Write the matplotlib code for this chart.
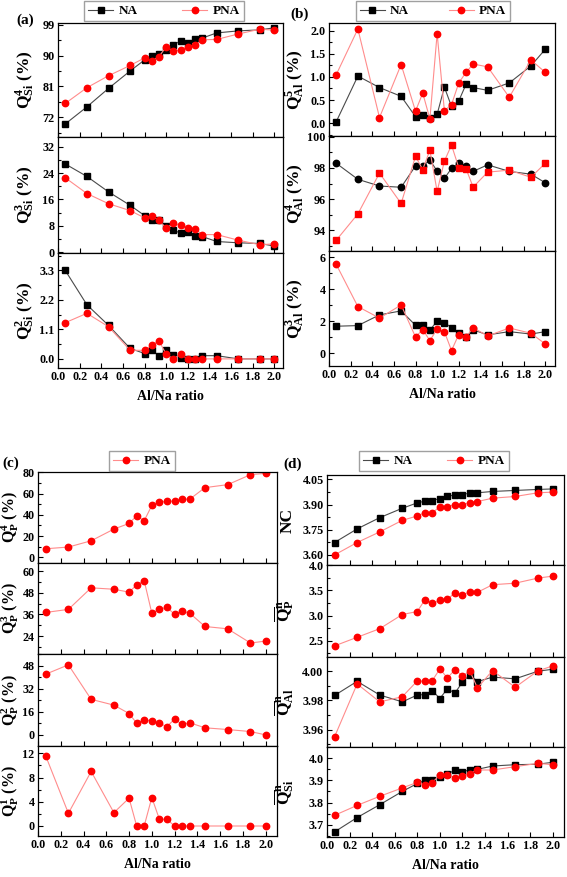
import matplotlib
matplotlib.use("Agg")
import matplotlib.pyplot as plt
from matplotlib.ticker import MultipleLocator, AutoMinorLocator

plt.rcParams["font.family"] = ["Liberation Serif", "DejaVu Serif"]
plt.rcParams["font.weight"] = "bold"
plt.rcParams["mathtext.fontset"] = "custom"
plt.rcParams["mathtext.rm"] = "Liberation Serif:bold"
plt.rcParams["mathtext.it"] = "Liberation Serif:bold"
plt.rcParams["mathtext.bf"] = "Liberation Serif:bold"

ratio = [0.067, 0.267, 0.467, 0.667, 0.8, 0.867, 0.933, 1.0, 1.067, 1.133,
         1.2, 1.267, 1.333, 1.467, 1.667, 1.867, 2.0]

# (a) Si species
q4si_na = [70.0, 75.0, 80.4, 85.5, 88.7, 89.8, 90.3, 91.5, 93.2, 94.2, 93.8, 94.9, 95.1, 96.6, 97.2, 97.5, 98.1]
q4si_pna = [76.0, 80.6, 84.1, 87.1, 89.3, 88.3, 89.7, 92.5, 91.3, 91.6, 92.6, 93.0, 94.6, 94.7, 96.3, 97.7, 97.4]
q3si_na = [26.8, 23.0, 18.3, 14.2, 11.1, 9.7, 9.6, 8.0, 6.7, 5.7, 6.1, 5.0, 4.7, 3.2, 2.8, 2.6, 1.8]
q3si_pna = [22.6, 17.8, 14.7, 12.6, 10.4, 11.0, 9.6, 7.3, 8.7, 8.2, 7.2, 7.1, 5.3, 5.3, 3.6, 2.2, 2.5]
q2si_na = [3.3, 2.02, 1.25, 0.39, 0.2, 0.35, 0.1, 0.32, 0.16, 0.05, 0.0, 0.0, 0.12, 0.12, 0.0, 0.0, 0.0]
q2si_pna = [1.35, 1.7, 1.2, 0.32, 0.32, 0.51, 0.68, 0.17, 0.0, 0.17, 0.0, 0.0, 0.0, 0.0, 0.0, 0.0, 0.0]

# (b) Al species
q5al_na = [0.03, 1.02, 0.77, 0.58, 0.14, 0.17, 0.12, 0.19, 0.78, 0.36, 0.48, 0.84, 0.77, 0.71, 0.87, 1.24, 1.6]
q5al_pna = [1.05, 2.04, 0.12, 1.27, 0.26, 0.65, 0.09, 1.94, 0.27, 0.4, 0.87, 1.1, 1.28, 1.22, 0.56, 1.37, 1.1]
q4al_na = [98.3, 97.27, 96.84, 96.76, 98.13, 98.13, 98.5, 97.8, 97.33, 97.97, 98.33, 98.13, 97.78, 98.2, 97.78, 97.6, 97.05]
q4al_pna = [93.36, 95.05, 97.67, 95.72, 98.74, 97.9, 99.14, 96.49, 98.44, 99.47, 98.02, 97.95, 96.77, 97.73, 97.86, 97.4, 98.3]
q3al_na = [1.69, 1.73, 2.4, 2.65, 1.75, 1.75, 1.44, 2.02, 1.92, 1.6, 1.25, 1.04, 1.46, 1.15, 1.35, 1.2, 1.35]
q3al_pna = [5.56, 2.92, 2.2, 3.02, 1.02, 1.48, 0.79, 1.52, 1.35, 0.17, 1.17, 1.0, 1.6, 1.08, 1.58, 1.25, 0.58]

# (c) P species (PNA only)
q4p_pna = [8.1, 9.7, 15.6, 26.6, 31.9, 39.1, 34.4, 48.8, 51.9, 52.8, 52.8, 54.7, 54.7, 65.6, 68.4, 77.8, 79.0]
q3p_pna = [37.1, 38.8, 50.8, 50.0, 48.4, 52.4, 54.8, 36.7, 38.9, 40.0, 36.0, 37.8, 36.7, 29.3, 28.0, 20.1, 21.2]
q2p_pna = [42.0, 48.5, 24.6, 20.6, 14.8, 8.1, 10.4, 9.7, 7.9, 5.8, 10.9, 7.2, 8.4, 4.9, 3.7, 2.3, 0.0]
q1p_pna = [11.6, 2.1, 9.0, 2.2, 4.6, 0.0, 0.0, 4.7, 1.1, 1.1, 0.0, 0.0, 0.0, 0.0, 0.0, 0.0, 0.0]

# (d) coordination / mean Qn
nc_na = [3.674, 3.755, 3.822, 3.878, 3.91, 3.92, 3.924, 3.936, 3.948, 3.958, 3.958, 3.97, 3.97, 3.978, 3.984, 3.99, 3.993]
nc_pna = [3.60, 3.674, 3.737, 3.806, 3.832, 3.852, 3.852, 3.886, 3.888, 3.90, 3.90, 3.912, 3.918, 3.938, 3.948, 3.97, 3.974]
qnp_pna = [2.40, 2.57, 2.74, 3.02, 3.08, 3.31, 3.24, 3.30, 3.32, 3.45, 3.41, 3.47, 3.46, 3.61, 3.64, 3.74, 3.78]
qnal_na = [3.9834, 3.9931, 3.9837, 3.979, 3.9837, 3.984, 3.9867, 3.9813, 3.988, 3.985, 3.9925, 3.9977, 3.9929, 3.996, 3.9948, 4.0, 4.0014]
qnal_pna = [3.955, 3.9913, 3.979, 3.9825, 3.9934, 3.9931, 3.9936, 4.0016, 3.9954, 4.0011, 3.997, 4.0, 3.9886, 4.0005, 3.989, 4.0002, 4.0037]
qnsi_na = [3.667, 3.732, 3.79, 3.85, 3.886, 3.9, 3.903, 3.915, 3.929, 3.946, 3.938, 3.949, 3.95, 3.965, 3.971, 3.973, 3.982]
qnsi_pna = [3.742, 3.787, 3.828, 3.866, 3.891, 3.878, 3.89, 3.925, 3.925, 3.913, 3.922, 3.931, 3.947, 3.947, 3.962, 3.977, 3.971]

W, H = 567, 877
NA_STYLE = dict(color="#4a4a4a", lw=0.8, marker="s", ms=4.2, mfc="black", mec="black", label="NA")
PNA_STYLE = dict(color="#ff8c8c", lw=0.8, marker="o", ms=4.6, mfc="#ff0000", mec="#ff0000", label="PNA")


def make_axes(fig, left, right, top, bottom):
    return fig.add_axes([left / W, 1 - bottom / H, (right - left) / W, (bottom - top) / H])


def style_axes(ax, ylim, ystep, xmax, ylabel, label_x, bottom=False, fmt=None, label_size=12.5):
    ax.set_xlim(0, xmax)
    ax.set_ylim(*ylim)
    ax.xaxis.set_major_locator(MultipleLocator(0.2))
    ax.yaxis.set_major_locator(MultipleLocator(ystep))
    ax.yaxis.set_minor_locator(AutoMinorLocator(2))
    ax.tick_params(which="both", direction="in", labelsize=8.7, width=0.8, pad=2.5)
    ax.tick_params(which="major", length=3.5)
    ax.tick_params(which="minor", length=2)
    for s in ax.spines.values():
        s.set_linewidth(0.9)
    if fmt:
        ax.yaxis.set_major_formatter(plt.FormatStrFormatter(fmt))
    if bottom:
        ax.xaxis.set_major_formatter(plt.FormatStrFormatter("%.1f"))
        ax.set_xlabel("Al/Na ratio", fontsize=10, fontweight="bold", labelpad=5)
    else:
        ax.tick_params(axis="x", labelbottom=False)
    ax.set_ylabel(ylabel, fontsize=label_size, fontweight="bold")
    ax.yaxis.set_label_coords(label_x, 0.5)
    for lab in ax.get_xticklabels() + ax.get_yticklabels():
        lab.set_fontweight("bold")


def stack(fig, left, right, edges):
    return [make_axes(fig, left, right, edges[i], edges[i + 1]) for i in range(len(edges) - 1)]


fig = plt.figure(figsize=(W / 100, H / 100), dpi=100)

# ---- (a)
a1, a2, a3 = stack(fig, 58, 283, [23, 137, 253, 368])
a1.plot(ratio, q4si_na, **NA_STYLE)
a1.plot(ratio, q4si_pna, **PNA_STYLE)
style_axes(a1, (66.2, 99.5), 9, 2.08, r"$\mathrm{Q^{4}_{Si}}$ (%)", -0.10)
a2.plot(ratio, q3si_na, **NA_STYLE)
a2.plot(ratio, q3si_pna, **PNA_STYLE)
style_axes(a2, (-0.3, 35), 8, 2.08, r"$\mathrm{Q^{3}_{Si}}$ (%)", -0.10)
a3.plot(ratio, q2si_na, **NA_STYLE)
a3.plot(ratio, q2si_pna, **PNA_STYLE)
style_axes(a3, (-0.34, 3.95), 1.1, 2.08, r"$\mathrm{Q^{2}_{Si}}$ (%)", -0.10, bottom=True, fmt="%.1f")

# ---- (b)
b1, b2, b3 = stack(fig, 329, 555, [23, 136, 251, 366])
b1.plot(ratio, q5al_na, **NA_STYLE)
b1.plot(ratio, q5al_pna, **PNA_STYLE)
style_axes(b1, (-0.28, 2.17), 0.5, 2.09, r"$\mathrm{Q^{5}_{Al}}$ (%)", -0.10, fmt="%.1f")
# the middle panel swaps marker shapes, as in the original figure
b2.plot(ratio, q4al_na, **dict(NA_STYLE, marker="o", ms=4.6))
b2.plot(ratio, q4al_pna, **dict(PNA_STYLE, marker="s", ms=4.2))
style_axes(b2, (92.67, 100.05), 2, 2.09, r"$\mathrm{Q^{4}_{Al}}$ (%)", -0.10)
b3.plot(ratio, q3al_na, **NA_STYLE)
b3.plot(ratio, q3al_pna, **PNA_STYLE)
style_axes(b3, (-0.8, 6.4), 2, 2.09, r"$\mathrm{Q^{3}_{Al}}$ (%)", -0.10, bottom=True)

# ---- (c)
c1, c2, c3, c4 = stack(fig, 38, 277, [472, 563, 654, 746, 836])
c1.plot(ratio, q4p_pna, **PNA_STYLE)
style_axes(c1, (-5.3, 80.3), 20, 2.1, r"$\mathrm{Q^{4}_{P}}$ (%)", -0.072, label_size=11.5)
c2.plot(ratio, q3p_pna, **PNA_STYLE)
style_axes(c2, (14, 64.6), 12, 2.1, r"$\mathrm{Q^{3}_{P}}$ (%)", -0.072, label_size=11.5)
c3.plot(ratio, q2p_pna, **PNA_STYLE)
style_axes(c3, (-7.7, 56), 16, 2.1, r"$\mathrm{Q^{2}_{P}}$ (%)", -0.072, label_size=11.5)
c4.plot(ratio, q1p_pna, **PNA_STYLE)
style_axes(c4, (-1.65, 13.2), 4, 2.1, r"$\mathrm{Q^{1}_{P}}$ (%)", -0.072, bottom=True, label_size=11.5)

# ---- (d)
d1, d2, d3, d4 = stack(fig, 327, 564, [475, 565, 657, 747, 837])
d1.plot(ratio, nc_na, **NA_STYLE)
d1.plot(ratio, nc_pna, **PNA_STYLE)
style_axes(d1, (3.54, 4.076), 0.15, 2.1, "NC", -0.13, fmt="%.2f")
d2.plot(ratio, qnp_pna, **PNA_STYLE)
style_axes(d2, (2.18, 4.0), 0.5, 2.1, r"$\overline{\mathrm{Q}}\mathrm{^{n}_{P}}$", -0.13, fmt="%.1f")
d3.plot(ratio, qnal_na, **NA_STYLE)
d3.plot(ratio, qnal_pna, **PNA_STYLE)
style_axes(d3, (3.948, 4.0098), 0.02, 2.1, r"$\overline{\mathrm{Q}}\mathrm{^{n}_{Al}}$", -0.13, fmt="%.2f")
d4.plot(ratio, qnsi_na, **NA_STYLE)
d4.plot(ratio, qnsi_pna, **PNA_STYLE)
style_axes(d4, (3.644, 4.051), 0.1, 2.1, r"$\overline{\mathrm{Q}}\mathrm{^{n}_{Si}}$", -0.13, bottom=True, fmt="%.1f")

# legends above each group
leg_kw = dict(loc="upper center", frameon=True, fancybox=False, edgecolor="#888888",
              prop={"family": "Liberation Serif", "weight": "bold", "size": 9.5},
              handlelength=1.9, borderpad=0.3, handletextpad=0.4, borderaxespad=0)
fig.legend(*a1.get_legend_handles_labels(), ncol=2, columnspacing=3.4,
           bbox_to_anchor=(164 / W, 1 - 1 / H), **leg_kw)
fig.legend(*b1.get_legend_handles_labels(), ncol=2, columnspacing=3.0,
           bbox_to_anchor=(433 / W, 1 - 1 / H), **leg_kw)
fig.legend(*c1.get_legend_handles_labels(), ncol=1,
           bbox_to_anchor=(142 / W, 1 - 451 / H), **leg_kw)
fig.legend(*d1.get_legend_handles_labels(), ncol=2, columnspacing=2.6,
           bbox_to_anchor=(434 / W, 1 - 451 / H), **leg_kw)

for lab, x, y in [("(a)", 16, 20), ("(b)", 290, 14), ("(c)", 2, 463), ("(d)", 283, 464)]:
    fig.text(x / W, 1 - y / H, lab, fontsize=11, fontweight="bold", va="center", ha="left")

fig.savefig("out.png", dpi=100)
